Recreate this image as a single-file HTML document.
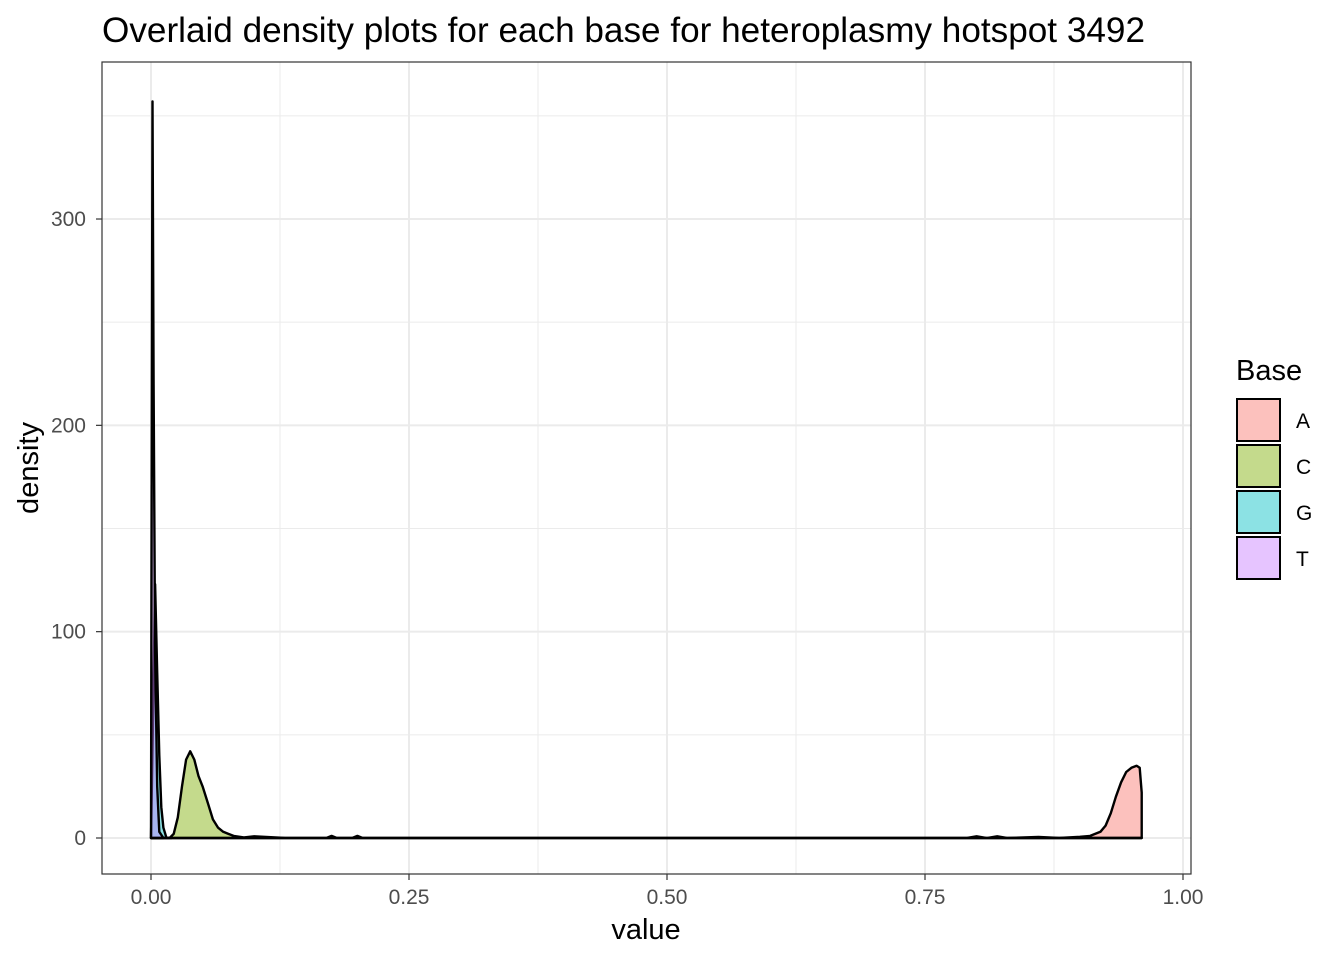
<!DOCTYPE html>
<html><head><meta charset="utf-8"><style>
body{margin:0;background:#fff;font-family:"Liberation Sans",Arial,sans-serif}
svg text{font-family:"Liberation Sans",Arial,sans-serif}
</style></head><body>
<svg id="chart" width="1344" height="960" xmlns="http://www.w3.org/2000/svg">
<rect width="1344" height="960" fill="#fff"/>
<text x="102" y="42" font-size="35" textLength="1043" lengthAdjust="spacingAndGlyphs" fill="#000">Overlaid density plots for each base for heteroplasmy hotspot 3492</text>
<g id="grid"></g>
<g id="series"></g>
<rect x="102" y="62" width="1089" height="812" fill="none" stroke="#333" stroke-width="1.2"/>
<g id="axes"></g>
<text x="646" y="939" font-size="29" text-anchor="middle">value</text>
<text transform="translate(38,468) rotate(-90)" font-size="29" text-anchor="middle">density</text>
<g id="legend"></g>
</svg>
<script>
const xTicks=[0,0.25,0.5,0.75,1.0];
const xTickLabels=["0.00","0.25","0.50","0.75","1.00"];
const yTicks=[0,100,200,300];
const yTickLabels=["0","100","200","300"];
const bases=["A","C","G","T"];
const baseColors=["#F8766D","#7CAE00","#00BFC4","#C77CFF"];
const aX=[0,0.2,0.5,0.79,0.80,0.81,0.82,0.83,0.86,0.88,0.90,0.91,0.92,0.925,0.93,0.935,0.94,0.945,0.95,0.955,0.958,0.96,0.96];
const aY=[0,0,0,0,0.8,0,0.8,0,0.5,0,0.6,1,3,6,12,20,27,32,34,35,34,22,0];
const cX=[0,0.01,0.018,0.022,0.026,0.03,0.034,0.038,0.042,0.046,0.05,0.055,0.06,0.065,0.07,0.075,0.08,0.09,0.1,0.13,0.17,0.175,0.18,0.195,0.2,0.205,0.26,0.5,0.96];
const cY=[0,0,0,2,10,25,38,42,38,30,25,17,9,5,3,2,1,0.3,0.8,0,0,1,0,0,1,0,0,0,0];
const gX=[0,0.002,0.004,0.006,0.008,0.01,0.012,0.015,0.02];
const gY=[0,60,123,80,40,15,5,0,0];
const tX=[0,0.0008,0.0015,0.0025,0.004,0.006,0.008,0.012];
const tY=[0,200,357,220,90,25,3,0];
const seriesX=[aX,cX,gX,tX], seriesY=[aY,cY,gY,tY];

const NS="http://www.w3.org/2000/svg";
const L=102,R=1191,T=62,B=874;
const sx=v=>151+v*1032;
const sy=v=>838-v*2.0633;
function mk(tag,attrs,parent){const e=document.createElementNS(NS,tag);for(const k in attrs)e.setAttribute(k,attrs[k]);parent.appendChild(e);return e;}
const grid=document.getElementById('grid'),axes=document.getElementById('axes'),ser=document.getElementById('series'),leg=document.getElementById('legend');
for(let i=0;i<xTicks.length-1;i++){const m=(xTicks[i]+xTicks[i+1])/2;
 const g=mk('line',{x1:sx(m),x2:sx(m),y1:T,y2:B,stroke:'#ebebeb','stroke-width':1},grid);
 }
for(let i=0;i<yTicks.length;i++){const m=yTicks[i]+50;
 const g=mk('line',{x1:L,x2:R,y1:sy(m),y2:sy(m),stroke:'#ebebeb','stroke-width':1},grid);
 }
xTicks.forEach((v,i)=>{
 const g=mk('line',{x1:sx(v),x2:sx(v),y1:T,y2:B,stroke:'#ebebeb','stroke-width':2},grid);
 
 const t=mk('line',{x1:sx(v),x2:sx(v),y1:B,y2:B+6,stroke:'#333','stroke-width':1.2},axes);
 
 const l=mk('text',{x:sx(v),y:B+30,'font-size':21,fill:'#4d4d4d','text-anchor':'middle'},axes);
 l.textContent=xTickLabels[i];});
yTicks.forEach((v,i)=>{
 const g=mk('line',{x1:L,x2:R,y1:sy(v),y2:sy(v),stroke:'#ebebeb','stroke-width':2},grid);
 
 const t=mk('line',{x1:L-6,x2:L,y1:sy(v),y2:sy(v),stroke:'#333','stroke-width':1.2},axes);
 
 const l=mk('text',{x:L-16,y:sy(v)+7,'font-size':21,fill:'#4d4d4d','text-anchor':'end'},axes);
 l.textContent=yTickLabels[i];});
bases.forEach((b,i)=>{
 const xs=seriesX[i],ys=seriesY[i];
 let pts=xs.map((x,j)=>sx(x).toFixed(1)+','+sy(ys[j]).toFixed(1));
 pts.push(sx(xs[xs.length-1]).toFixed(1)+','+sy(0).toFixed(1));
 pts.unshift(sx(xs[0]).toFixed(1)+','+sy(0).toFixed(1));
 const p=mk('polygon',{points:pts.join(' '),fill:baseColors[i],'fill-opacity':0.45,stroke:'#000','stroke-width':2.4,'stroke-linejoin':'round'},ser);
 
 const k=mk('rect',{x:1237,y:399+i*46,width:43,height:42,fill:baseColors[i],'fill-opacity':0.45,stroke:'#000','stroke-width':2},leg);
 
 const t=mk('text',{x:1296,y:428+i*46,'font-size':21,fill:'#000'},leg);
 t.textContent=b;});
const lt=mk('text',{x:1236,y:380,'font-size':29,fill:'#000'},leg);
lt.textContent='Base';


</script>
</body></html>
